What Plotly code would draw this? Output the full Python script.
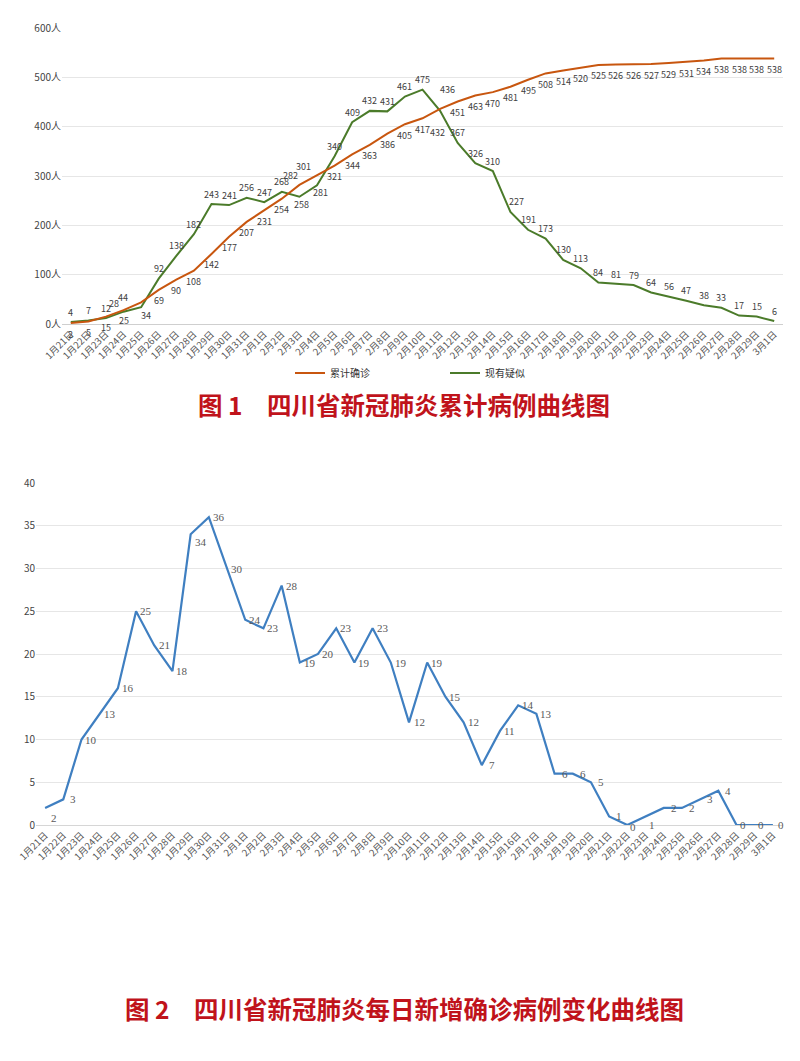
import plotly.graph_objects as go

# ---- data ----
dates = [f"1月{d}日" for d in range(21, 32)] + [f"2月{d}日" for d in range(1, 30)] + ["3月1日"]

cumulative = [2, 5, 15, 28, 44, 69, 90, 108, 142, 177, 207, 231, 254, 282, 301, 321, 344, 363, 386, 405,
              417, 436, 451, 463, 470, 481, 495, 508, 514, 520, 525, 526, 526, 527, 529, 531, 534, 538,
              538, 538, 538]
suspected = [4, 7, 12, 25, 34, 92, 138, 182, 243, 241, 256, 247, 268, 258, 281, 340, 409, 432, 431, 461,
             475, 432, 367, 326, 310, 227, 191, 173, 130, 113, 84, 81, 79, 64, 56, 47, 38, 33, 17, 15, 6]
daily_new = [2, 3, 10, 13, 16, 25, 21, 18, 34, 36, 30, 24, 23, 28, 19, 20, 23, 19, 23, 19, 12, 19, 15,
             12, 7, 11, 14, 13, 6, 6, 5, 1, 0, 1, 2, 2, 3, 4, 0, 0, 0]

title1 = "图 1　四川省新冠肺炎累计病例曲线图"
title2 = "图 2　四川省新冠肺炎每日新增确诊病例变化曲线图"

ORANGE = "#c8560f"
GREEN = "#4b7b2a"
BLUE = "#3f7fc1"
SANS = "Noto Sans CJK SC"
RED = "#c0131b"

# page body has an 8px margin, so the figure is sized to fit inside the window
OFF = 8
W, H = 800 - OFF, 1061 - OFF


def xp(px):
    return (px - OFF) / W


def yp(py):
    return 1 - (py - OFF) / H


# ---- label offsets (pixels), default + exceptions ----
shift_cum = {3: (-10, 7), 4: (-18, 5), 13: (-9, 9), 14: (-13, 9), 21: (7, 19)}
shift_sus = {3: (0, -9), 4: (5, -8), 13: (2, -8), 14: (4, -7), 21: (-3, -22), 25: (6, 11)}
shift_new = {0: (9, -10), 8: (10, -8), 32: (6, -2), 33: (6, -9), 38: (6, 0), 39: (6, 0), 40: (8, 0)}

fig = go.Figure()

fig.add_trace(go.Scatter(x=dates, y=suspected, mode="lines", name="现有疑似",
                         line=dict(color=GREEN, width=2), xaxis="x", yaxis="y"))
fig.add_trace(go.Scatter(x=dates, y=cumulative, mode="lines", name="累计确诊",
                         line=dict(color=ORANGE, width=2), xaxis="x", yaxis="y"))
fig.add_trace(go.Scatter(x=dates, y=daily_new, mode="lines", name="每日新增",
                         line=dict(color=BLUE, width=2.2), showlegend=False,
                         xaxis="x2", yaxis="y2"))

for i, (d, v) in enumerate(zip(dates, cumulative)):
    dx, dy = shift_cum.get(i, (0, -11))
    fig.add_annotation(x=d, y=v, xref="x", yref="y", text=str(v), showarrow=False,
                       xshift=dx, yshift=dy, font=dict(family=SANS, size=9, color="#404040"))
for i, (d, v) in enumerate(zip(dates, suspected)):
    dx, dy = shift_sus.get(i, (0, 10))
    fig.add_annotation(x=d, y=v, xref="x", yref="y", text=str(v), showarrow=False,
                       xshift=dx, yshift=dy, font=dict(family=SANS, size=9, color="#404040"))
for i, (d, v) in enumerate(zip(dates, daily_new)):
    dx, dy = shift_new.get(i, (10, 0))
    fig.add_annotation(x=d, y=v, xref="x2", yref="y2", text=str(v), showarrow=False,
                       xshift=dx, yshift=dy,
                       font=dict(family="Liberation Serif", size=11, color="#595959"))

fig.add_annotation(text=f"<b>{title1}</b>", x=0.5, y=yp(404), xref="paper", yref="paper",
                   showarrow=False, font=dict(family=SANS, size=24.5, color=RED))
fig.add_annotation(text=f"<b>{title2}</b>", x=0.5, y=yp(1028), xref="paper", yref="paper",
                   showarrow=False, font=dict(family=SANS, size=24.5, color=RED))

tickfont = dict(family=SANS, size=9.5, color="#555555")

fig.update_layout(
    width=W, height=H,
    margin=dict(l=0, r=0, t=0, b=0),
    paper_bgcolor="white", plot_bgcolor="white",
    font=dict(family=SANS),
    xaxis=dict(domain=[xp(62), xp(783)], anchor="y", type="category", automargin=False,
               range=[-0.5, 40.5], tickangle=-45, tickfont=tickfont,
               showgrid=False, showline=True, linecolor="#cfcfcf", ticks=""),
    yaxis=dict(domain=[yp(324), yp(28)], anchor="x", range=[0, 600], dtick=100, automargin=False,
               ticksuffix="人", tickfont=dict(family=SANS, size=10, color="#444444"),
               gridcolor="#e6e6e6", zeroline=False, showline=False),
    xaxis2=dict(domain=[xp(36), xp(782)], anchor="y2", type="category", automargin=False,
                range=[-0.5, 40.5], tickangle=-45, tickfont=tickfont,
                showgrid=False, showline=True, linecolor="#d6d6d6", ticks=""),
    yaxis2=dict(domain=[yp(825), yp(483)], anchor="x2", range=[0, 40], dtick=5, automargin=False,
                tickfont=dict(family=SANS, size=10, color="#444444"),
                gridcolor="#e6e6e6", zeroline=False, showline=False),
    legend=dict(orientation="h", x=xp(290), xanchor="left", y=yp(373), yanchor="middle",
                traceorder="reversed",
                font=dict(family=SANS, size=10, color="#333333"), entrywidth=110,
                itemwidth=30),
)

fig.write_html("out.html")
